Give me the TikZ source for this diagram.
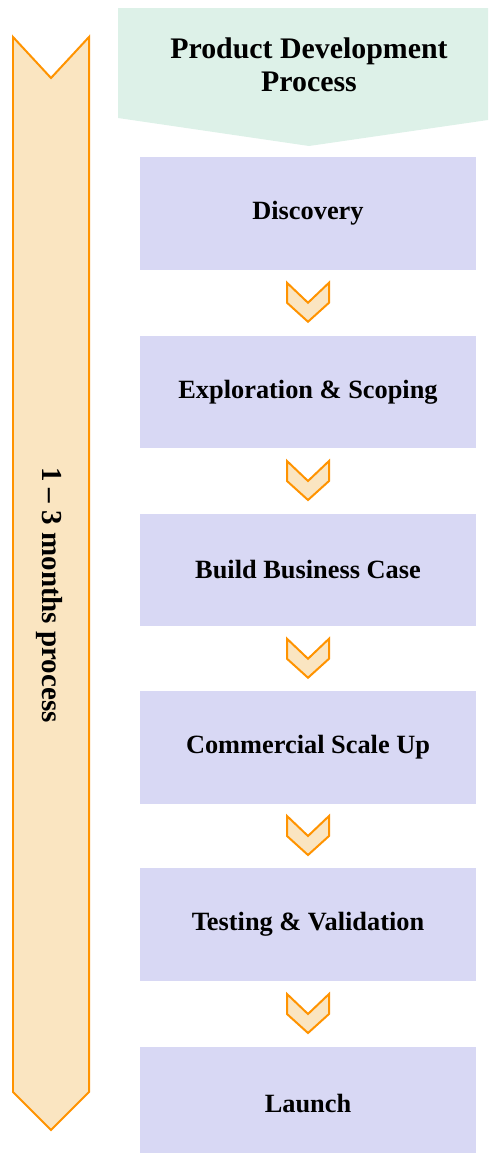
\documentclass[tikz,border=0pt]{standalone}
\usepackage{fontspec}
\setmainfont{Liberation Serif}
\usetikzlibrary{calc}
\definecolor{mint}{HTML}{DDF1E8}
\definecolor{lavender}{HTML}{D8D8F4}
\definecolor{peach}{HTML}{FAE5C1}
\definecolor{orangeline}{HTML}{FF9300}
\tikzset{
  stage/.style={fill=lavender, minimum width=6.72cm, minimum height=2.26cm,
    inner sep=0pt, font=\bfseries\fontsize{15}{18}\selectfont},
  chevron/.style={draw=orangeline, fill=peach, line width=0.04cm, line join=miter},
}
\begin{document}
\begin{tikzpicture}[x=0.02cm,y=-0.02cm]
  \useasboundingbox (0,0) rectangle (488,1153);
  % duration arrow
  \draw[chevron] (13,37) -- (51,78) -- (89,37) -- (89,1092) -- (51,1130) -- (13,1092) -- cycle;
  \node[rotate=-90, font=\bfseries\fontsize{16.5}{19}\selectfont] (dur) at (49,595) {1 -- 3 months process};
  % header
  \fill[mint] (118,8) -- (488,8) -- (488,120) -- (309,146) -- (118,118) -- cycle;
  \node[align=center, font=\bfseries\fontsize{17}{19}\selectfont] (head) at (309,65) {Product Development\\Process};
  % stages
  \node[stage] (s1) at (308,213.5) {Discovery};
  \node[stage] (s2) at (308,392) {Exploration \& Scoping};
  \node[stage] (s3) at (308,570) {Build Business Case};
  \node[stage] (s4) at (308,747.5) {Commercial Scale Up};
  \node[stage] (s5) at (308,924.5) {Testing \& Validation};
  \node[stage] (s6) at (308,1103.5) {Launch};
  % chevrons between stages
  \foreach \a/\b in {s1/s2, s2/s3, s3/s4, s4/s5, s5/s6}
    \draw[chevron] ($(\a.south)!0.5!(\b.north)$) ++(-21,-20) -- ++(21,20) -- ++(21,-20)
      -- ++(0,20) -- ++(-21,19) -- ++(-21,-19) -- cycle;
\end{tikzpicture}
\end{document}
